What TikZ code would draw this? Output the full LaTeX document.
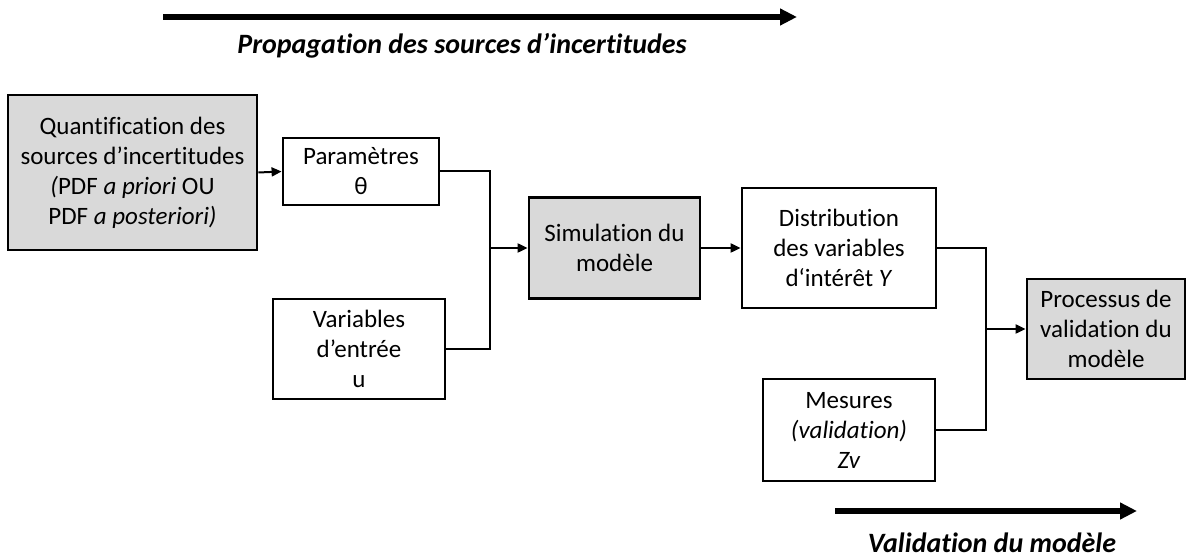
\documentclass[tikz,border=0pt]{standalone}
\usepackage{fontspec}
\setmainfont{Carlito}[Ligatures={NoCommon}]
\usetikzlibrary{calc}
\usetikzlibrary{arrows.meta}

\begin{document}
\begin{tikzpicture} [x=0.5pt, y=-0.5pt,
  box/.style={draw=black, line width=1.4pt, align=center, inner sep=0pt, font=\fontsize{12.5}{15}\selectfont},
  greybox/.style={box, fill=boxgrey},
  link/.style={black, line width=1pt},
  bigarrow/.style={black, line width=2.8pt, -{Triangle[length=8.5pt, width=8pt]}},
  banner/.style={font=\fontsize{14}{16}\selectfont\bfseries\itshape}]
\definecolor{boxgrey}{HTML}{D9D9D9}
\useasboundingbox (0,0) rectangle (1187,560);

\node[greybox, minimum width=124.5pt, minimum height=77.5pt] (quant) at (132.5,172.5)
  {Quantification des\\ sources d’incertitudes\\ \textit{(}PDF \textit{a priori} OU\\ PDF \textit{a posteriori)}};
\node[box, minimum width=78pt, minimum height=33.5pt] (param) at (361,171.5) {Paramètres\\ θ};
\node[box, minimum width=86pt, minimum height=50pt] (vars) at (359,349) {Variables\\ d’entrée\\ u};
\node[greybox, minimum width=85.5pt, minimum height=50.5pt] (simu) at (614.5,248) {Simulation du\\ modèle};
\node[box, minimum width=97pt, minimum height=60pt] (distr) at (839,248) {Distribution\\ des variables\\ d‘intérêt \textit{Y}};
\node[box, minimum width=86pt, minimum height=51pt] (mes) at (849,430) {Mesures\\ \textit{(validation)}\\ \textit{Zv}};
\node[greybox, minimum width=79pt, minimum height=50pt] (valid) at (1106,329) {Processus de\\ validation du\\ modèle};

\coordinate (j1) at ($(simu.west)+(-38,0)$);
\coordinate (j2) at ($(valid.west)+(-40,0)$);

\draw[link, -{Triangle[length=5pt, width=4.5pt]}] (quant.east) -- (param.west);
\draw[link] (param.east) -| (j1) |- (vars.east);
\draw[link, -{Triangle[length=5pt, width=4.5pt]}] (j1) -- (simu.west);
\draw[link, -{Triangle[length=5pt, width=4.5pt]}] (simu.east) -- (distr.west);
\draw[link] (distr.east) -| (j2) |- (mes.east);
\draw[link, -{Triangle[length=5pt, width=4.5pt]}] (j2) -- (valid.west);

\coordinate (propA) at (163,17);
\coordinate (propB) at (797,17);
\draw[bigarrow] (propA) -- (propB);
\node[banner] (proplabel) at (462,46) {Propagation des sources d’incertitudes};

\coordinate (valA) at (835,511);
\coordinate (valB) at (1137,511);
\draw[bigarrow] (valA) -- (valB);
\node[banner] (vallabel) at (992,543) {Validation du modèle};

\end{tikzpicture}
\end{document}
